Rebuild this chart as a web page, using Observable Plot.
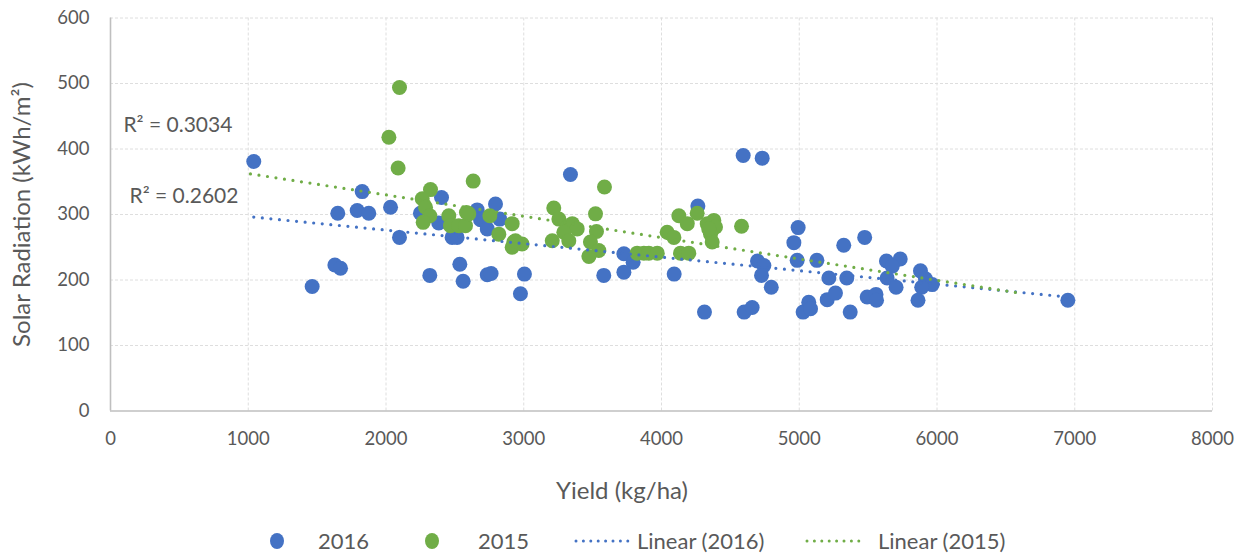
<!DOCTYPE html>
<html>
<head>
<meta charset="utf-8">
<script src="https://cdn.jsdelivr.net/npm/d3@7"></script>
<script src="https://cdn.jsdelivr.net/npm/@observablehq/plot@0.6"></script>
<style>
  body { margin: 0; background: #fff; font-family: Lato, "Open Sans", sans-serif; color: #595959; }
  #wrap { position: relative; width: 1244px; height: 555px; overflow: hidden; }
  #chart { position: absolute; left: 0; top: 0; }
  #xlabel { position: absolute; left: 0; top: 475px; width: 1244px; text-align: center; font-size: 24px; line-height: 30px; }
  .leg { position: absolute; top: 527px; height: 28px; line-height: 28px; font-size: 22px; white-space: nowrap; }
</style>
</head>
<body>
<div id="wrap">
  <div id="chart"></div>
  <div id="xlabel">Yield (kg/ha)</div>
  <div id="legend"></div>
</div>
<script>
// 2016 season: yield (kg/ha) and solar radiation (kWh/m²)
const yield2016 = [1040, 1464, 1629, 1670, 1650, 1791, 1827, 1875, 2033, 2098, 2318, 2250, 2383, 2403, 2480, 2516,
  2536, 2560, 2662, 2686, 2735, 2795, 2826, 2735, 2763, 2976, 3005, 3339, 3581, 3727, 3794, 3727, 4092, 4264,
  4312, 4593, 4731, 4600, 4658, 4697, 4743, 4726, 4797, 4992, 4961, 4985, 5128, 5028, 5069, 5082, 5215, 5345,
  5203, 5263, 5323, 5370, 5475, 5493, 5557, 5561, 5633, 5733, 5675, 5638, 5703, 5880, 5916, 5965, 5889, 5862, 6950];
const rad2016 = [381, 190, 223, 218, 302, 306, 335, 302, 311, 265, 207, 302, 287, 326, 265, 265,
  224, 198, 307, 292, 278, 316, 293, 208, 210, 179, 209, 361, 207, 240, 227, 212, 209, 313,
  151, 390, 386, 151, 158, 229, 222, 207, 189, 280, 257, 230, 230, 151, 166, 156, 203, 203,
  170, 180, 253, 151, 265, 174, 178, 169, 229, 232, 221, 203, 189, 214, 202, 193, 189, 169, 169];

// 2015 season
const yield2015 = [2098, 2021, 2088, 2633, 2323, 2263, 2287, 2318, 2270, 2456, 2468, 2528, 2577, 2601, 2584, 2754,
  2819, 2916, 2928, 2916, 2988, 2940, 3218, 3255, 3315, 3352, 3388, 3291, 3327, 3207, 3586, 3521, 3528, 3484,
  3545, 3473, 3823, 3872, 3908, 3969, 4041, 4090, 4126, 4187, 4259, 4138, 4198, 4332, 4380, 4392, 4356, 4368,
  4343, 4581];
const rad2015 = [494, 418, 371, 351, 338, 324, 311, 298, 288, 298, 283, 283, 283, 301, 303, 298,
  270, 286, 258, 250, 255, 260, 310, 293, 281, 286, 278, 273, 260, 260, 342, 301, 274, 258,
  245, 236, 241, 241, 241, 241, 273, 265, 298, 286, 302, 241, 241, 286, 291, 281, 270, 258,
  278, 282];

// Linear trendline end points
const trendYield2016 = [1040, 6950];
const trendRad2016 = [296, 174];
const trendYield2015 = [1016, 6570];
const trendRad2015 = [362, 181];

// R² annotations
const r2Texts = ["R² = 0.3034", "R² = 0.2602"];
const r2Yield = [94, 138];
const r2Rad = [436, 328];

// Axis ticks
const xTicks = [0, 1000, 2000, 3000, 4000, 5000, 6000, 7000, 8000];
const yTicks = [0, 100, 200, 300, 400, 500, 600];

const blue = "#4472C4";
const green = "#70AD47";
const textGray = "#595959";

const pts2016 = yield2016.map((x, i) => ({x, y: rad2016[i]}));
const pts2015 = yield2015.map((x, i) => ({x, y: rad2015[i]}));
const tr2016 = trendYield2016.map((x, i) => ({x, y: trendRad2016[i]}));
const tr2015 = trendYield2015.map((x, i) => ({x, y: trendRad2015[i]}));
const r2 = r2Texts.map((t, i) => ({t, x: r2Yield[i], y: r2Rad[i]}));

const dotted = {strokeWidth: 3.2, strokeDasharray: "0 8.6", strokeLinecap: "round"};

const chart = Plot.plot({
  width: 1244,
  height: 460,
  marginLeft: 110,
  marginRight: 32,
  marginTop: 17.5,
  marginBottom: 49.5,
  style: {fontFamily: "Lato, 'Open Sans', sans-serif", fontSize: "18.5px", color: textGray, background: "#fff"},
  x: {domain: [0, 8000], ticks: xTicks, tickSize: 0, tickPadding: 21, tickFormat: d3.format("d"), label: null},
  y: {domain: [0, 600], ticks: yTicks, tickSize: 0, tickPadding: 21, tickFormat: d3.format("d"), label: null},
  marks: [
    Plot.gridX(xTicks.slice(1), {stroke: "#dedede", strokeOpacity: 1, strokeDasharray: "3,2"}),
    Plot.gridY(yTicks.slice(1), {stroke: "#dedede", strokeOpacity: 1, strokeDasharray: "3,2"}),
    Plot.ruleX([0], {stroke: "#bfbfbf", strokeWidth: 1.6}),
    Plot.ruleY([0], {stroke: "#bfbfbf", strokeWidth: 1.6}),
    Plot.dot(pts2016, {x: "x", y: "y", r: 7.5, fill: blue}),
    Plot.dot(pts2015, {x: "x", y: "y", r: 7.5, fill: green}),
    Plot.line(tr2016, {x: "x", y: "y", stroke: blue, ...dotted}),
    Plot.line(tr2015, {x: "x", y: "y", stroke: green, ...dotted}),
    Plot.text(r2, {x: "x", y: "y", text: "t", textAnchor: "start", fill: textGray, fontSize: 21}),
    Plot.text(["Solar Radiation (kWh/m²)"], {frameAnchor: "left", textAnchor: "middle", dx: -88, rotate: -90, fill: textGray, fontSize: 24})
  ]
});
document.getElementById("chart").appendChild(chart);

// Legend below the chart
const legendItems = [
  {label: "2016", color: blue, kind: "dot", sx: 270, tx: 318},
  {label: "2015", color: green, kind: "dot", sx: 425, tx: 478},
  {label: "Linear (2016)", color: blue, kind: "line", sx: 572, tx: 637},
  {label: "Linear (2015)", color: green, kind: "line", sx: 803, tx: 878}
];
const legend = document.getElementById("legend");
for (const it of legendItems) {
  const sw = document.createElementNS("http://www.w3.org/2000/svg", "svg");
  sw.setAttribute("width", 60);
  sw.setAttribute("height", 28);
  sw.style.position = "absolute";
  sw.style.left = it.sx + "px";
  sw.style.top = "527px";
  if (it.kind === "dot") {
    sw.innerHTML = `<ellipse cx="7" cy="14" rx="7" ry="8" fill="${it.color}"/>`;
  } else {
    sw.innerHTML = `<line x1="4" x2="56" y1="14" y2="14" stroke="${it.color}" stroke-width="3" stroke-dasharray="0 7.4" stroke-linecap="round"/>`;
  }
  legend.appendChild(sw);
  const t = document.createElement("div");
  t.className = "leg";
  t.style.left = it.tx + "px";
  t.textContent = it.label;
  legend.appendChild(t);
}
</script>
</body>
</html>
